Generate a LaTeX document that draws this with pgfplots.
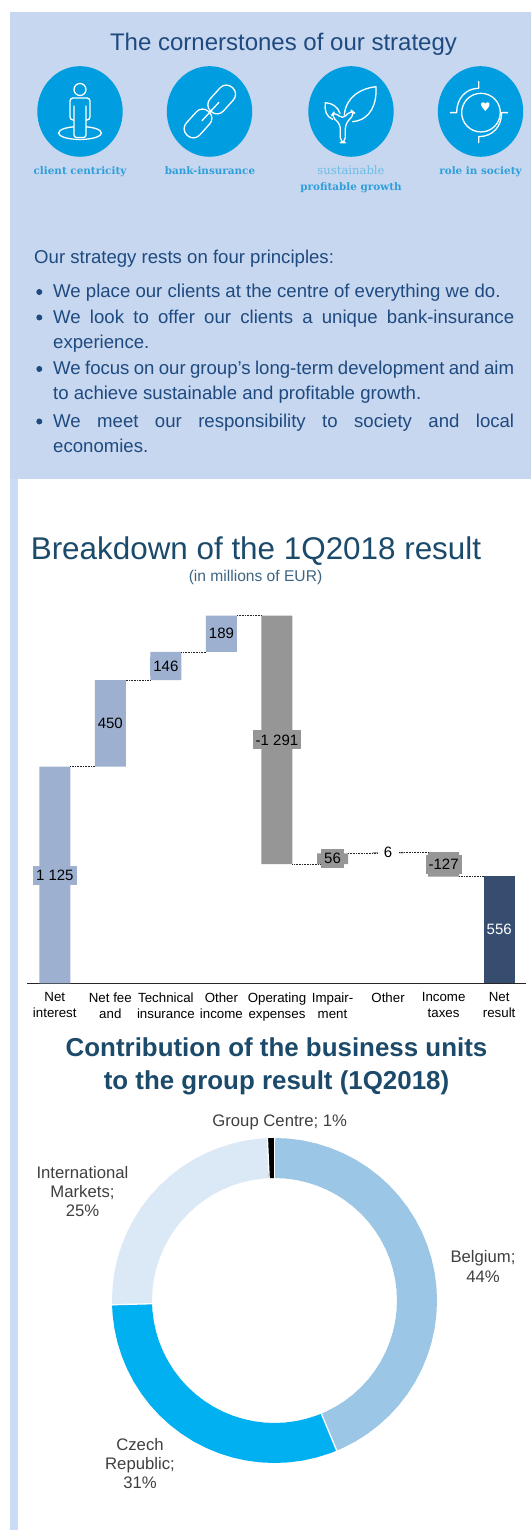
\documentclass[border=0pt]{standalone}
\usepackage{fontspec}
\setmainfont{Liberation Sans}
\newfontfamily\slab{DejaVu Serif}[Scale=1]
\usepackage{pgfplots}
\pgfplotsset{compat=1.18}
\usepgfplotslibrary{polar}
\definecolor{panel}{HTML}{C6D7EF}
\definecolor{strip}{HTML}{C9DCF5}
\definecolor{ink}{HTML}{1F4A80}
\definecolor{iconblue}{HTML}{009EE0}
\definecolor{icontext}{HTML}{2E9FDC}
\definecolor{titleblue}{HTML}{1B4A6B}
\definecolor{lightbar}{HTML}{9DB0CF}
\definecolor{greybar}{HTML}{969696}
\definecolor{darkbar}{HTML}{374D6F}
\definecolor{dBel}{HTML}{9CC6E5}
\definecolor{dCze}{HTML}{00B0F0}
\definecolor{dInt}{HTML}{DBE8F5}
\definecolor{lab}{HTML}{404040}
\newcommand{\fsz}[1]{\fontsize{#1pt}{#1pt}\selectfont}
\pgfplotstableread{
x base light grey dark
0 0    1125 0    0
1 1125 450  0    0
2 1575 146  0    0
3 1721 189  0    0
4 619  0    1291 0
5 619  0    56   0
6 675  0    6    0
7 554  0    127  0
8 0    0    0    556
}\bars
\begin{document}
\begin{tikzpicture}[x=1pt,y=1pt]
\fill[white] (0,0) rectangle (531,1530);
\useasboundingbox (0,0) rectangle (531,1530);
\begin{scope}[shift={(0,1530)},y=-1pt]
  \fill[strip] (10,470) rectangle (17.5,1530);
  \fill[panel] (10,12) rectangle (531,479);
  % titles
  \node[anchor=base,inner sep=0,text=ink,font=\fsz{24}] at (283.5,50.5) {The cornerstones of our strategy};
  % icons
  \foreach \cx in {80,209.5,351,480.5}
    \fill[iconblue] (\cx,111.5) ellipse [x radius=42.7,y radius=45.3];
  \begin{scope}[white,line width=1.3pt,line join=round,line cap=round]
    % person
    \draw (80,89.5) circle (6);
    \draw (80,133) ellipse [x radius=21.5,y radius=6.5];
    \fill[iconblue] (74,100) rectangle (86,137);
    \draw[rounded corners=3pt] (74,120)--(70,120)--(70,98)--(90,98)--(90,120)--(86,120);
    \draw[rounded corners=2.5pt] (74,106)--(74,137.5)--(86,137.5)--(86,106);
    % link
    \begin{scope}[shift={(221.7,99.5)},rotate=48]
      \draw[rounded corners=8.5pt] (-16,-9) rectangle (16,9);
    \end{scope}
    \begin{scope}[shift={(198,123.5)},rotate=48]
      \draw[rounded corners=8.5pt] (-16,-9) rectangle (16,9);
    \end{scope}
    \draw (202,120.7)--(219,102.3);
    % plant
    \begin{scope}[shift={(291,60)},x=0.3333pt,y=-0.3333pt]
      \draw[rounded corners=5pt] (148,248)--(148,192)--(120,168)--(130,155)--(155,178)--(180,150)--(192,160)--(163,192)--(163,248)--cycle;
      \draw (160,165) .. controls (165,110) and (210,85) .. (255,80) .. controls (258,130) and (240,180) .. (185,185);
      \draw (125,178) .. controls (105,170) and (100,150) .. (103,128) .. controls (125,130) and (140,140) .. (147,160);
      % role
      \draw (570,158) circle (58);
      \draw (478,158)--(497,158) .. controls (497,115) and (525,85) .. (563,85) -- (563,65);
      \draw (650,158)--(632,158) .. controls (632,200) and (605,230) .. (563,230) -- (563,248);
      \fill (583,153) .. controls (570,140) and (566,130) .. (575,127) .. controls (580,126) and (583,130) .. (583,132) .. controls (583,130) and (587,126) .. (591,127) .. controls (600,130) and (596,140) .. (583,153) -- cycle;
    \end{scope}
  \end{scope}
  \begin{scope}[font=\slab\bfseries\fsz{10.4},text=icontext]
    \node[anchor=base,inner sep=0] at (80,175) {client centricity};
    \node[anchor=base,inner sep=0] at (210,175) {bank-insurance};
    \node[anchor=base,inner sep=0,font=\slab\fsz{11.6},text=icontext!70] at (351,175) {sustainable};
    \node[anchor=base,inner sep=0] at (351,191) {profitable growth};
    \node[anchor=base,inner sep=0] at (480.5,175) {role in society};
  \end{scope}
  % text
  \begin{scope}[font=\fsz{18.6},text=ink]
    \node[anchor=base west,inner sep=0] at (34,263.3) {Our strategy rests on four principles:};
    \node[anchor=base west,inner sep=0] at (53,297.7) {We place our clients at the centre of everything we do.};
    \node[anchor=base west,inner sep=0] at (53,323.3) {\hbox to 461pt{We look to offer our clients a unique bank-insurance}};
    \node[anchor=base west,inner sep=0] at (53,348.3) {experience.};
    \node[anchor=base west,inner sep=0] at (53,374.3) {\hbox to 461pt{\spaceskip=0.2em plus 1fil We focus on our group’s long-term development and aim}};
    \node[anchor=base west,inner sep=0] at (53,400) {to achieve sustainable and profitable growth.};
    \node[anchor=base west,inner sep=0] at (53,427.7) {\hbox to 461pt{We meet our responsibility to society and local}};
    \node[anchor=base west,inner sep=0] at (53,452.7) {economies.};
  \end{scope}
  \foreach \by in {292,317.5,369,421.5}
    \fill[ink] (39.3,\by) circle (3);
  \node[anchor=base,inner sep=0,text=titleblue,font=\fsz{31.4}] at (256,560) {Breakdown of the 1Q2018 result};
  \node[anchor=base,inner sep=0,text=titleblue!85,font=\fsz{15.6}] at (255.5,582) {(in millions of EUR)};
  \node[anchor=base,inner sep=0,text=titleblue,font=\bfseries\fsz{25.9}] at (276.5,1057) {Contribution of the business units};
  \node[anchor=base,inner sep=0,text=titleblue,font=\bfseries\fsz{25.9}] at (276.5,1089.5) {to the group result (1Q2018)};
  % donut labels
  \begin{scope}[font=\fsz{16.7},text=lab]
    \node[anchor=base,inner sep=0] at (279.7,1126.5) {Group Centre; 1\%};
    \node[anchor=base,inner sep=0] at (82.5,1179) {International};
    \node[anchor=base,inner sep=0] at (82.5,1198) {Markets;};
    \node[anchor=base,inner sep=0] at (82.5,1217) {25\%};
    \node[anchor=base,inner sep=0] at (483,1262.5) {Belgium;};
    \node[anchor=base,inner sep=0] at (483,1282.5) {44\%};
    \node[anchor=base,inner sep=0] at (140,1451) {Czech};
    \node[anchor=base,inner sep=0] at (140,1470) {Republic;};
    \node[anchor=base,inner sep=0] at (140,1489) {31\%};
  \end{scope}
\end{scope}

% waterfall bars
\begin{axis}[
  at={(27pt,546.7pt)},anchor=south west,
  scale only axis,width=499pt,height=385pt,
  xmin=-0.5,xmax=8.483,ymin=0,ymax=2000,
  ybar stacked,bar width=31pt,
  axis y line=none,axis x line=bottom,
  axis line style={-,draw=black!85,line width=0.9pt},
  xtick={0,...,8},tick style={draw=none},
  xticklabels={Net\\interest,Net fee\\and,Technical\\insurance,Other\\income,Operating\\expenses,Impair-\\ment,Other\\\strut,Income\\taxes,Net\\result},
  xticklabel style={align=center,font=\fontsize{13.3pt}{16pt}\selectfont,text=black,inner sep=0pt,yshift=-7pt},
  clip=false,
]
\addplot[draw=none,fill=none] table[x=x,y=base] {\bars};
\addplot[draw=none,fill=lightbar] table[x=x,y=light] {\bars};
\addplot[draw=none,fill=greybar] table[x=x,y=grey] {\bars};
\addplot[draw=none,fill=darkbar] table[x=x,y=dark] {\bars};
\end{axis}
% connectors and value labels
\begin{axis}[
  at={(27pt,546.7pt)},anchor=south west,
  scale only axis,width=499pt,height=385pt,
  xmin=-0.5,xmax=8.483,ymin=0,ymax=2000,
  hide axis,clip=false,unbounded coords=jump,
  nodes near coords align=center,
  lblstyle/.style={draw=none,mark=none,nodes near coords,
    point meta=explicit symbolic,
    every node near coord/.style={anchor=center,font=\fsz{15},inner xsep=3pt,inner ysep=0pt,minimum height=19pt,fill=#1}},
]
\addplot[black!85,line width=0.8pt,dash pattern=on 1pt off 0.6pt,mark=none] coordinates {
 (0.279,1125)(0.721,1125)(1,nan)
 (1.279,1575)(1.721,1575)(2,nan)
 (2.279,1721)(2.721,1721)(3,nan)
 (3.279,1910)(3.721,1910)(4,nan)
 (4.279,619)(4.85,619)(5,nan)
 (5.279,675)(6,675)(6,nan)
 (6,681)(6.721,681)(7,nan)
 (7.279,554)(7.721,554)};
\addplot[lblstyle=lightbar] coordinates {(0,562.5)[1 125] (1,1350)[450] (2,1648)[146] (3,1815.5)[189]};
\addplot[lblstyle=greybar] coordinates {(4,1264.5)[-1 291] (5,647)[56] (7,617.5)[-127]};
\addplot[lblstyle=white,every node near coord/.append style={minimum width=21pt}] coordinates {(6,678)[6]};
\addplot[lblstyle=darkbar,every node near coord/.append style={text=white}] coordinates {(8,278)[556]};
\end{axis}

% donut: shares drawn clockwise from the top
\begin{polaraxis}[
  at={(274.5pt,229.5pt)},anchor=center,
  scale only axis,width=325pt,height=325pt,
  ymin=0,ymax=162.5,hide axis,clip=false,
]
\addplot[dBel,line width=40pt,mark=none] coordinates {(90,142.5)(85,142.5)(80,142.5)(75,142.5)(70,142.5)(65,142.5)(60,142.5)(55,142.5)(50,142.5)(45,142.5)(40,142.5)(35,142.5)(30,142.5)(25,142.5)(20,142.5)(15,142.5)(10,142.5)(5,142.5)(0,142.5)(-5,142.5)(-10,142.5)(-15,142.5)(-20,142.5)(-25,142.5)(-30,142.5)(-35,142.5)(-40,142.5)(-45,142.5)(-50,142.5)(-55,142.5)(-60,142.5)(-65,142.5)(-67.5,142.5)};
\addplot[dCze,line width=40pt,mark=none] coordinates {(-67.5,142.5)(-70,142.5)(-75,142.5)(-80,142.5)(-85,142.5)(-90,142.5)(-95,142.5)(-100,142.5)(-105,142.5)(-110,142.5)(-115,142.5)(-120,142.5)(-125,142.5)(-130,142.5)(-135,142.5)(-140,142.5)(-145,142.5)(-150,142.5)(-155,142.5)(-160,142.5)(-165,142.5)(-170,142.5)(-175,142.5)(-178.5,142.5)};
\addplot[dInt,line width=40pt,mark=none] coordinates {(-178.5,142.5)(-180,142.5)(-185,142.5)(-190,142.5)(-195,142.5)(-200,142.5)(-205,142.5)(-210,142.5)(-215,142.5)(-220,142.5)(-225,142.5)(-230,142.5)(-235,142.5)(-240,142.5)(-245,142.5)(-250,142.5)(-255,142.5)(-260,142.5)(-265,142.5)(-267.5,142.5)};
\addplot[black,line width=40pt,mark=none] coordinates {(-267.5,142.5)(-270,142.5)};
\addplot[white,line width=1.3pt,mark=none] coordinates {(-67.5,121)(-67.5,164)};
\addplot[white,line width=1.3pt,mark=none] coordinates {(-178.5,121)(-178.5,164)};
\addplot[white,line width=1.3pt,mark=none] coordinates {(-267.5,121)(-267.5,164)};
\addplot[white,line width=1.3pt,mark=none] coordinates {(90,121)(90,164)};
\end{polaraxis}
\end{tikzpicture}
\end{document}
